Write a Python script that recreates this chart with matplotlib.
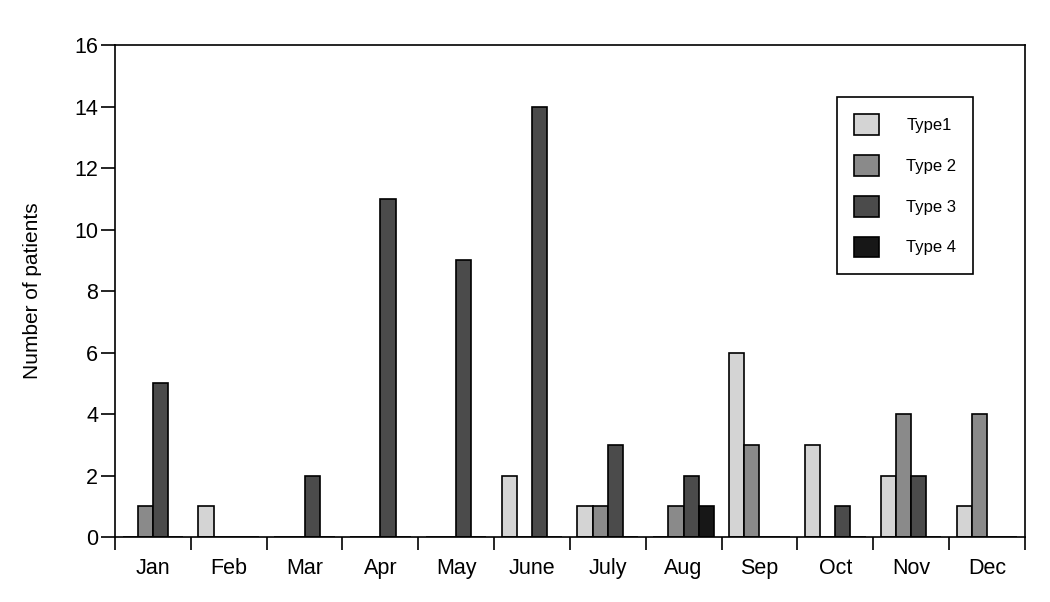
import matplotlib
matplotlib.use("Agg")
import matplotlib.pyplot as plt
import numpy as np

plt.rcParams['font.family'] = ['Liberation Sans', 'DejaVu Sans']

months = ['Jan', 'Feb', 'Mar', 'Apr', 'May', 'June', 'July', 'Aug', 'Sep', 'Oct', 'Nov', 'Dec']
type1 = [0, 1, 0, 0, 0, 2, 1, 0, 6, 3, 2, 1]
type2 = [1, 0, 0, 0, 0, 0, 1, 1, 3, 0, 4, 4]
type3 = [5, 0, 2, 11, 9, 14, 3, 2, 0, 1, 2, 0]
type4 = [0, 0, 0, 0, 0, 0, 0, 1, 0, 0, 0, 0]
series = [type1, type2, type3, type4]
labels = ['Type1', 'Type 2', 'Type 3', 'Type 4']
colors = ['#d4d4d4', '#8a8a8a', '#4b4b4b', '#171717']

fig = plt.figure(figsize=(10.5, 6.02), dpi=100)
ax = fig.add_axes([0.1095, 0.108, 0.8665, 0.817])

x = np.arange(len(months))
w = 0.2
for i, (vals, lab, c) in enumerate(zip(series, labels, colors)):
    ax.bar(x + 0.1 + i * w, vals, width=w, align='edge', color=c,
           edgecolor='black', linewidth=1.2, label=lab)

ax.set_xlim(0, len(months))
ax.set_ylim(0, 16)
ax.set_yticks(range(0, 17, 2))
ax.set_xticks(np.arange(0, len(months) + 1))
ax.set_xticklabels([])
ax.set_xticks(x + 0.5, minor=True)
ax.set_xticklabels(months, minor=True, fontsize=15.5)
ax.tick_params(axis='x', which='major', direction='out', length=9, width=1.2)
ax.tick_params(axis='x', which='minor', length=0, pad=15)
ax.tick_params(axis='y', direction='out', length=10, width=1.2, labelsize=15.5, pad=2)
for s in ax.spines.values():
    s.set_linewidth(1.2)

ax.set_ylabel('Number of patients', fontsize=15, labelpad=23)

leg = ax.legend(loc='upper right', bbox_to_anchor=(0.943, 0.894), borderaxespad=0,
                fontsize=12, labelspacing=1.2, handlelength=1.55, handleheight=1.55,
                handletextpad=1.6, borderpad=1.0, fancybox=False, framealpha=1)
leg.get_frame().set_edgecolor('black')
leg.get_frame().set_linewidth(1.2)

plt.savefig('out.png', dpi=100)
